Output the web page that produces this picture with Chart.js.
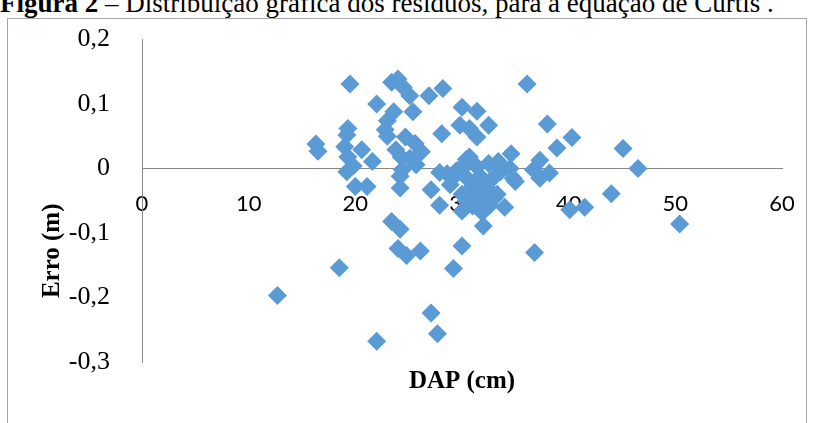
<!DOCTYPE html>
<html><head><meta charset="utf-8">
<script src="https://cdn.jsdelivr.net/npm/chart.js@4"></script>
<style>
html,body{margin:0;padding:0;background:#fff;overflow:hidden;}
#wrap{position:relative;width:817px;height:423px;}
#title{position:absolute;left:0;top:-10px;font-family:"Liberation Serif",serif;font-size:27px;line-height:1;white-space:nowrap;color:#000;}
#frame{position:absolute;left:7px;top:18px;width:800px;height:420px;border:1px solid #A6A6A6;box-sizing:border-box;}
canvas{position:absolute;left:0;top:0;}
</style></head>
<body><div id="wrap"><div id="frame"></div><div id="title"><b>Figura 2</b> – Distribuição gráfica dos resíduos, para a equação de Curtis .</div><canvas id="c" width="817" height="423"></canvas></div>
<script>
// DAP (cm) values
const dap = [12.7,16.3,16.5,18.5,19.5,19.3,19.2,19.0,19.3,20.6,21.6,19.2,19.8,20.0,21.1,22.0,22.0,
  23.4,24.0,24.5,25.1,23.6,23.0,22.8,23.0,25.4,26.9,28.2,28.1,30.0,31.4,29.8,30.7,31.4,32.5,
  36.1,38.0,40.3,38.9,45.1,46.5,44.0,50.4,41.5,40.1,37.3,36.7,38.2,37.3,34.6,33.4,34.5,35.0,34.0,
  32.0,30.0,29.2,36.8,27.1,27.7,23.4,24.2,24.0,24.8,26.1,24.7,25.6,23.8,24.3,26.2,25.1,25.7,
  24.4,24.2,24.2,27.9,27.1,27.9,30.0,
  28.6,29.1,29.5,30.0,30.4,30.7,30.4,31.0,31.4,31.7,32.1,31.8,32.5,32.9,33.3,33.6,33.3,30.0,
  30.4,30.7,32.1,31.0,31.6,32.6,31.9,34.8,32.5,30.4,33.0,28.9];
// Erro (m) values
const erro = [-0.197,0.038,0.027,-0.154,0.131,0.062,0.052,0.034,0.018,0.029,0.011,-0.005,0.004,-0.028,-0.028,0.100,-0.268,
  0.134,0.139,0.126,0.113,0.088,0.074,0.060,0.050,0.088,0.113,0.124,0.054,0.095,0.089,0.067,0.062,0.049,0.067,
  0.131,0.069,0.048,0.032,0.031,0.000,-0.039,-0.086,-0.060,-0.064,0.013,-0.002,-0.007,-0.015,0.023,0.011,0.000,-0.020,-0.060,
  -0.089,-0.120,-0.155,-0.130,-0.224,-0.256,-0.082,-0.094,-0.124,-0.135,-0.128,0.049,0.039,0.029,0.018,0.026,0.016,0.006,
  -0.002,-0.012,-0.030,-0.006,-0.033,-0.057,-0.066,
  -0.008,-0.015,-0.003,0.002,0.014,0.018,-0.014,-0.028,0.003,-0.012,-0.020,-0.038,-0.032,-0.015,0.006,-0.005,-0.040,-0.040,
  -0.050,-0.045,-0.045,-0.058,-0.055,-0.057,-0.068,-0.015,0.008,0.006,-0.046,-0.025];
const xTickLabels = ['0','10','20','30','40','50','60'];
const yTickLabels = ['-0,3','-0,2','-0,1','0','0,1','0,2'];
const xTitle = 'DAP (cm)';
const yTitle = 'Erro (m)';

const pts = dap.map((d,i)=>({x:d,y:erro[i]}));
const axisColor = '#868686';

new Chart(document.getElementById('c'), {
  type: 'scatter',
  data: { datasets: [{
    data: pts,
    pointStyle: 'rectRot',
    pointRadius: 9.5,
    pointHoverRadius: 9.5,
    backgroundColor: '#5B9BD5',
    borderColor: '#5B9BD5',
    borderWidth: 0,
    showLine: false,
    xAxisID: 'x',
    yAxisID: 'y'
  }]},
  options: {
    responsive: false,
    animation: false,
    devicePixelRatio: 1,
    layout: { padding: { top: 37, right: 35, left: 0, bottom: 0 } },
    plugins: { legend: { display: false }, tooltip: { enabled: false } },
    scales: {
      x: {
        type: 'linear', position: 'bottom', min: 0, max: 60,
        ticks: { display: false },
        grid: { display: false },
        border: { display: false },
        title: { display: true, text: xTitle, color: '#000',
          font: { family: 'Liberation Serif', size: 25, weight: 'bold' },
          padding: { top: 5, bottom: 26 } },
        afterFit(s) { s.height = 61; }
      },
      x0: {
        axis: 'x', type: 'linear', position: { y: 0 }, min: 0, max: 60,
        ticks: { stepSize: 10, autoSkip: false, maxRotation: 0, color: '#000', padding: 14,
          font: { family: 'Lato', size: 22 },
          callback: (v, i) => xTickLabels[i] },
        grid: { display: false },
        border: { display: true, color: axisColor, width: 1 }
      },
      y: {
        type: 'linear', position: 'left', min: -0.3, max: 0.2,
        ticks: { stepSize: 0.1, color: '#000', padding: 24,
          font: { family: 'Liberation Serif', size: 26 },
          callback: (v, i) => yTickLabels[i] },
        grid: { display: false },
        border: { display: true, color: axisColor, width: 1 },
        title: { display: true, text: yTitle + '                ', color: '#000',
          font: { family: 'Liberation Serif', size: 25, weight: 'bold' },
          padding: { top: 38, bottom: 0 } },
        afterFit(s) { s.width = 142; }
      }
    }
  }
});
</script>
</body></html>
